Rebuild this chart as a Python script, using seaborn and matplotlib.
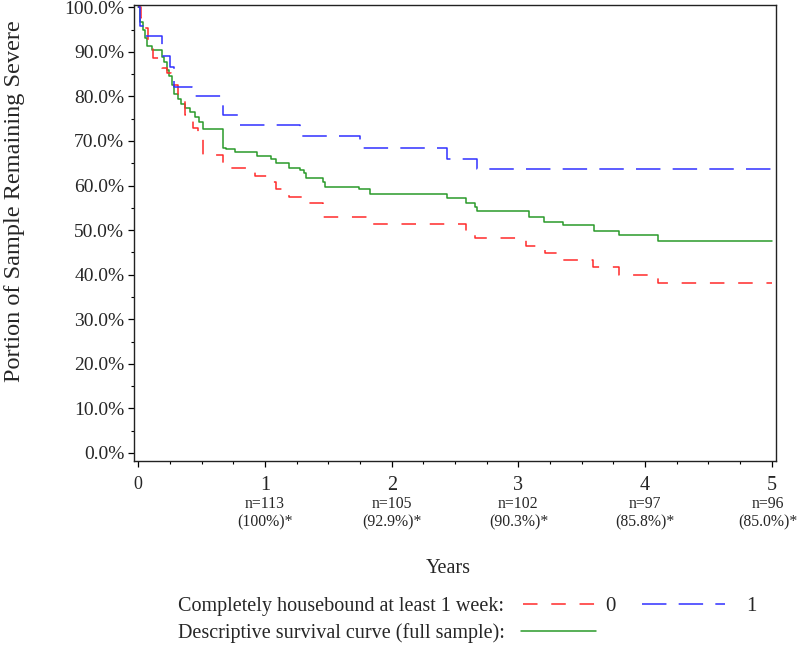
import numpy as np
import pandas as pd
import matplotlib
matplotlib.use("Agg")
import matplotlib.pyplot as plt
from matplotlib.lines import Line2D
from matplotlib.ticker import MultipleLocator, FuncFormatter
import seaborn as sns

# Kaplan-Meier style step curves (years, % remaining severe)
red_years = [0, 0.02, 0.053, 0.08, 0.113, 0.19, 0.23, 0.26, 0.31, 0.37, 0.43, 0.47, 0.51,
             0.67, 0.92, 1.05, 1.09, 1.19, 1.31, 1.46, 1.82, 2.59, 2.66, 3.06, 3.21, 3.35,
             3.59, 3.79, 4.10, 5.0]
red_pct = [100, 97.6, 95.4, 92.6, 88.5, 86.4, 85.3, 82.6, 79.8, 75.8, 72.8, 70.6, 66.8,
           64.0, 62.1, 60.8, 59.2, 57.4, 56.0, 53.0, 51.4, 49.6, 48.3, 46.4, 44.9, 43.3,
           41.7, 39.9, 38.2, 38.2]

blue_years = [0, 0.013, 0.035, 0.19, 0.25, 0.284, 0.42, 0.666, 0.79, 1.28, 1.75, 2.44, 2.675, 5.0]
blue_pct = [100, 95.9, 93.5, 89.0, 86.6, 82.2, 80.0, 75.9, 73.5, 71.0, 68.4, 65.9, 63.6, 63.6]

green_years = [0, 0.01, 0.035, 0.05, 0.07, 0.11, 0.19, 0.205, 0.225, 0.245, 0.265, 0.285,
               0.31, 0.34, 0.37, 0.41, 0.45, 0.48, 0.51, 0.666, 0.69, 0.76, 0.94, 1.05,
               1.09, 1.19, 1.28, 1.31, 1.32, 1.46, 1.47, 1.745, 1.83, 2.44, 2.59, 2.66,
               2.675, 3.08, 3.2, 3.35, 3.6, 3.79, 4.10, 5.0]
green_pct = [100, 96.6, 94.8, 93.0, 91.4, 90.3, 88.8, 87.8, 86.0, 84.5, 82.6, 80.5,
             79.3, 78.4, 77.5, 76.4, 75.3, 74.3, 72.6, 68.5, 68.1, 67.6, 66.6, 65.9,
             65.1, 64.0, 63.4, 62.7, 61.8, 60.8, 59.7, 59.2, 58.0, 57.1, 56.0, 55.2,
             54.3, 53.0, 51.9, 51.1, 49.9, 48.9, 47.6, 47.6]

tick_years = [0, 1, 2, 3, 4, 5]
at_risk = ["", "n=113\n(100%)*", "n=105\n(92.9%)*", "n=102\n(90.3%)*",
           "n=97\n(85.8%)*", "n=96\n(85.0%)*"]

sns.set_style("white")
plt.rcParams["font.family"] = ["Liberation Serif", "DejaVu Serif"]

RED, BLUE, GREEN = "#ff2a2a", "#3030ff", "#2a9a2a"
red_ls = (0, (9.5, 9))
blue_ls = (0, (16, 8))

fig = plt.figure(figsize=(8, 6.48), dpi=100)
ax = fig.add_axes([0.1675, 1 - 461 / 648, (776 - 134) / 800, (461 - 5) / 648])

for yrs, pct, col, ls in [(green_years, green_pct, GREEN, "-"),
                          (red_years, red_pct, RED, red_ls),
                          (blue_years, blue_pct, BLUE, blue_ls)]:
    d = pd.DataFrame({"year": yrs, "pct": pct})
    sns.lineplot(data=d, x="year", y="pct", ax=ax, color=col, linestyle=ls,
                 drawstyle="steps-post", linewidth=1.1, estimator=None,
                 errorbar=None, legend=False)

ax.set_xlim(-0.034, 5.033)
ax.set_ylim(-1.8, 100.5)
ax.yaxis.set_major_locator(MultipleLocator(10))
ax.yaxis.set_minor_locator(MultipleLocator(5))
ax.yaxis.set_major_formatter(FuncFormatter(lambda v, p: f"{v:.1f}%"))
ax.set_xticks(tick_years)
ax.set_xticklabels([str(t) for t in tick_years])
ax.xaxis.set_minor_locator(MultipleLocator(0.25))
ax.tick_params(axis="both", which="major", direction="out", length=4, width=0.9,
               color="black", bottom=True, left=True)
ax.tick_params(axis="both", which="minor", direction="out", length=2.5, width=0.8,
               color="black", bottom=True, left=True)
ax.tick_params(axis="y", labelsize=14, pad=3)
ax.tick_params(axis="x", labelsize=14.5, pad=7)
ax.get_xticklabels()[0].set_fontsize(13)
for s in ax.spines.values():
    s.set_color("#222222")
    s.set_linewidth(1.0)

# at-risk counts under each year tick; the last one nudged in from the figure edge
for t, lab in zip(tick_years, at_risk):
    if lab:
        xpos = t - 0.03 if t == tick_years[-1] else t
        ax.text(xpos, -0.077, lab, transform=ax.get_xaxis_transform(), ha="center",
                va="top", fontsize=11.3, linespacing=1.15)

ax.set_xlabel("Years", fontsize=14.5)
ax.xaxis.set_label_coords(0.49, -0.215)
ax.set_ylabel("Portion of Sample Remaining Severe", fontsize=17.5)
ax.yaxis.set_label_coords(-0.17, 0.57)

# legend rows below the plot
fig.text(178 / 800, 1 - 606 / 648, "Completely housebound at least 1 week:",
         ha="left", va="center", fontsize=14.5)
fig.text(178 / 800, 1 - 633 / 648, "Descriptive survival curve (full sample):",
         ha="left", va="center", fontsize=14.5)
h_red = Line2D([], [], color=RED, linestyle=red_ls, linewidth=1.1)
h_blue = Line2D([], [], color=BLUE, linestyle=blue_ls, linewidth=1.1)
h_green = Line2D([], [], color=GREEN, linewidth=1.1)
leg_kw = dict(loc="center left", frameon=False, fontsize=15, borderpad=0, borderaxespad=0)
fig.legend(handles=[h_red], labels=["0"], bbox_to_anchor=(523 / 800, 1 - 606 / 648),
           handlelength=3.45, handletextpad=0.5, **leg_kw)
fig.legend(handles=[h_blue], labels=["1"], bbox_to_anchor=(642 / 800, 1 - 606 / 648),
           handlelength=4.0, handletextpad=1.0, **leg_kw)
fig.legend(handles=[h_green], labels=[""], bbox_to_anchor=(521 / 800, 1 - 633 / 648),
           handlelength=3.6, handletextpad=0, **leg_kw)

fig.savefig("out.png", dpi=100, facecolor="white")
